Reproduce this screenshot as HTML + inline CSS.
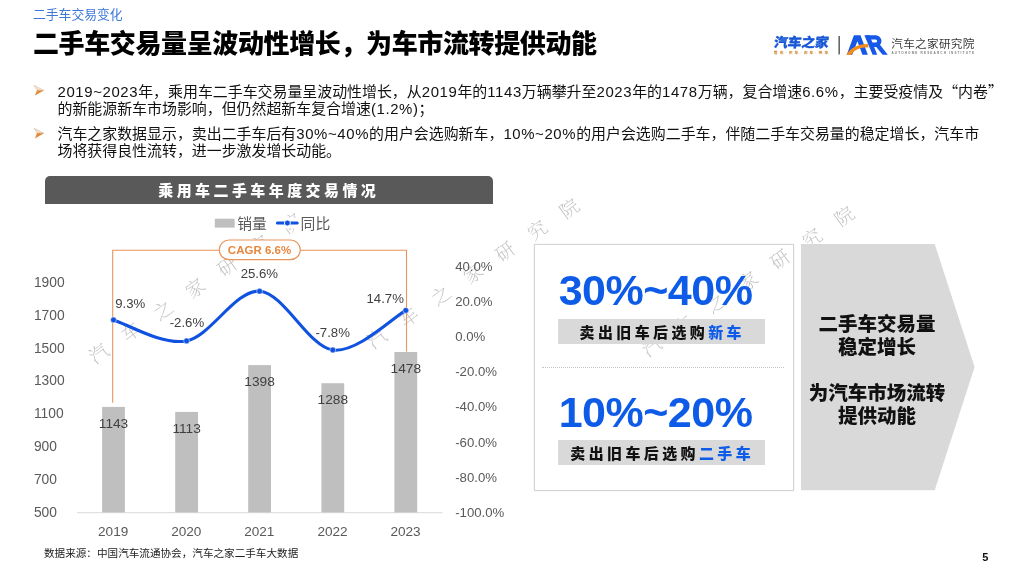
<!DOCTYPE html>
<html lang="zh"><head><meta charset="utf-8"><title>二手车交易变化</title>
<style>
*{margin:0;padding:0;box-sizing:border-box}
html,body{width:1024px;height:576px;overflow:hidden;background:#fff}
body{will-change:transform;font-family:"Liberation Sans","Noto Sans CJK SC",sans-serif;color:#000;position:relative}
.abs{position:absolute;white-space:nowrap}
#crumb{left:33px;top:7px;font-size:12.8px;color:#3b78d8;line-height:16px}
#title{left:33px;top:25.5px;font-size:26px;font-weight:900;line-height:36px;letter-spacing:-0.38px}
.bul{font-size:14.93px;line-height:18px;color:#111;left:57.5px}
.bul i{font-style:normal;letter-spacing:0.62px}
.bul .q{font-family:"Noto Sans CJK SC",sans-serif}
#hdr{left:44.5px;top:175.5px;width:448.5px;height:28.3px;background:#595959;border-radius:5px 5px 0 0;color:#fff;font-weight:900;font-size:14.93px;letter-spacing:3.5px;text-align:center;line-height:30px}
svg text{font-family:"Liberation Sans","Noto Sans CJK SC",sans-serif}
#wm text{font-family:"Noto Serif CJK SC","Liberation Serif",serif;fill:#c2c2c2;font-weight:200}
#box{left:534.2px;top:243.8px;width:260.2px;height:247px;border:1.7px solid #d4d4d4;background:#fff;box-shadow:0 0 2px rgba(0,0,0,.08)}
.big{font-size:43px;font-weight:700;color:#0e5be8;line-height:44px;left:555.5px;width:200px;text-align:center;letter-spacing:-0.5px}
.tag{left:557.5px;width:207px;height:25px;background:#d9d9d9;font-weight:900;font-size:14.93px;letter-spacing:3.45px;text-align:center;line-height:28px;padding-left:2.4px;color:#111}
.tag b{color:#0e5be8}
#dot{left:542px;top:366.8px;width:242px;border-top:1.2px dotted #c4c4c4}
#atxt{left:801px;top:312.8px;width:152px;text-align:center;font-weight:900;font-size:19.5px;line-height:23px;color:#111}
#src{left:44px;top:546px;font-size:10.6px;line-height:14px;color:#222}
#pg{left:982.3px;top:549.5px;font-size:11px;font-weight:700;line-height:14px;color:#111}
</style></head><body>
<div id="crumb" class="abs">二手车交易变化</div>
<div id="title" class="abs">二手车交易量呈波动性增长，为车市流转提供动能</div>

<div class="abs bul" style="top:82px"><i>2019~2023</i>年，乘用车二手车交易量呈波动性增长，从<i>2019</i>年的<i>1143</i>万辆攀升至<i>2023</i>年的<i>1478</i>万辆，复合增速<i>6.6%</i>，主要受疫情及<span class="q">“</span>内卷<span class="q">”</span></div>
<div class="abs bul" style="top:99.5px">的新能源新车市场影响，但仍然超新车复合增速<i>(1.2%)</i>；</div>
<div class="abs bul" style="top:124.5px">汽车之家数据显示，卖出二手车后有<i>30%~40%</i>的用户会选购新车，<i>10%~20%</i>的用户会选购二手车，伴随二手车交易量的稳定增长，汽车市</div>
<div class="abs bul" style="top:142px">场将获得良性流转，进一步激发增长动能。</div>

<div id="hdr" class="abs">乘用车二手车年度交易情况</div>
<div id="box" class="abs"></div>
<div id="dot" class="abs"></div>

<svg id="wm" class="abs" style="left:0;top:0" width="1024" height="576" viewBox="0 0 1024 576"><text x="97.9" y="352.2" font-size="19" text-anchor="middle" dominant-baseline="central" transform="rotate(-36 97.9 352.2)">汽</text><text x="130.0" y="330.5" font-size="19" text-anchor="middle" dominant-baseline="central" transform="rotate(-36 130.0 330.5)">车</text><text x="162.1" y="308.8" font-size="19" text-anchor="middle" dominant-baseline="central" transform="rotate(-36 162.1 308.8)">之</text><text x="194.2" y="287.1" font-size="19" text-anchor="middle" dominant-baseline="central" transform="rotate(-36 194.2 287.1)">家</text><text x="226.3" y="265.4" font-size="19" text-anchor="middle" dominant-baseline="central" transform="rotate(-36 226.3 265.4)">研</text><text x="258.4" y="243.7" font-size="19" text-anchor="middle" dominant-baseline="central" transform="rotate(-36 258.4 243.7)">究</text><text x="290.5" y="222.0" font-size="19" text-anchor="middle" dominant-baseline="central" transform="rotate(-36 290.5 222.0)">院</text><text x="375.9" y="337.4" font-size="19" text-anchor="middle" dominant-baseline="central" transform="rotate(-36 375.9 337.4)">汽</text><text x="408.0" y="315.7" font-size="19" text-anchor="middle" dominant-baseline="central" transform="rotate(-36 408.0 315.7)">车</text><text x="440.1" y="294.0" font-size="19" text-anchor="middle" dominant-baseline="central" transform="rotate(-36 440.1 294.0)">之</text><text x="472.2" y="272.3" font-size="19" text-anchor="middle" dominant-baseline="central" transform="rotate(-36 472.2 272.3)">家</text><text x="504.3" y="250.6" font-size="19" text-anchor="middle" dominant-baseline="central" transform="rotate(-36 504.3 250.6)">研</text><text x="536.4" y="228.9" font-size="19" text-anchor="middle" dominant-baseline="central" transform="rotate(-36 536.4 228.9)">究</text><text x="568.5" y="207.2" font-size="19" text-anchor="middle" dominant-baseline="central" transform="rotate(-36 568.5 207.2)">院</text><text x="650.8" y="345.2" font-size="19" text-anchor="middle" dominant-baseline="central" transform="rotate(-36 650.8 345.2)">汽</text><text x="682.9" y="323.5" font-size="19" text-anchor="middle" dominant-baseline="central" transform="rotate(-36 682.9 323.5)">车</text><text x="715.0" y="301.8" font-size="19" text-anchor="middle" dominant-baseline="central" transform="rotate(-36 715.0 301.8)">之</text><text x="747.1" y="280.1" font-size="19" text-anchor="middle" dominant-baseline="central" transform="rotate(-36 747.1 280.1)">家</text><text x="779.2" y="258.4" font-size="19" text-anchor="middle" dominant-baseline="central" transform="rotate(-36 779.2 258.4)">研</text><text x="811.3" y="236.7" font-size="19" text-anchor="middle" dominant-baseline="central" transform="rotate(-36 811.3 236.7)">究</text><text x="843.4" y="215.0" font-size="19" text-anchor="middle" dominant-baseline="central" transform="rotate(-36 843.4 215.0)">院</text></svg>

<svg class="abs" style="left:0;top:0" width="1024" height="576" viewBox="0 0 1024 576">
<rect x="212" y="217.6" width="120" height="10.8" fill="#fff"/>
<!-- bullets -->
<g id="bl">
<path d="M33.9,85.2 L44,90.4 L37,90.2 Z" fill="#f6dfc8" stroke="#cdbba9" stroke-width="0.5"/>
<path d="M37,90.2 L44,90.4 L34.9,95.6 Z" fill="#e28a3a"/>
<path d="M33.9,128 L44,133.2 L37,133 Z" fill="#f6dfc8" stroke="#cdbba9" stroke-width="0.5"/>
<path d="M37,133 L44,133.2 L34.9,138.4 Z" fill="#e28a3a"/>
</g>
<!-- arrow panel -->
<polygon points="801,244 934.7,244 974.6,367.1 934.7,490.3 801,490.3" fill="#d9d9d9"/>
<!-- axis -->
<line x1="77" y1="512.6999999999999" x2="442.5" y2="512.6999999999999" stroke="#d9d9d9" stroke-width="1"/>
<rect x="102.1" y="406.9" width="22.8" height="105.5" fill="#bfbfbf"/>
<rect x="175.2" y="411.9" width="22.8" height="100.5" fill="#bfbfbf"/>
<rect x="248.2" y="365.1" width="22.8" height="147.3" fill="#bfbfbf"/>
<rect x="321.4" y="383.2" width="22.8" height="129.2" fill="#bfbfbf"/>
<rect x="394.4" y="352.0" width="22.8" height="160.4" fill="#bfbfbf"/>

<!-- CAGR bracket -->
<path d="M112.7,402.8 V250.2 H406.5 V351.6" fill="none" stroke="#e9945a" stroke-width="1.1"/>
<rect x="219.3" y="240" width="81" height="19.6" rx="9.8" fill="#fff" stroke="#e9945a" stroke-width="1.2"/>
<text x="259.5" y="254.1" text-anchor="middle" font-size="11.5" font-weight="700" fill="#e8873f">CAGR 6.6%</text>
<!-- line -->
<path d="M113.5,319.9 C125.7,323.4 162.2,345.7 186.6,340.9 C210.9,336.1 235.2,289.7 259.6,291.2 C284.0,292.8 308.4,346.8 332.8,350.0 C357.2,353.2 393.6,317.0 405.8,310.4" fill="none" stroke="#0f52e0" stroke-width="3.1" stroke-linecap="round"/>
<circle cx="113.5" cy="319.9" r="2.9" fill="#0f52e0" stroke="#fff" stroke-width="0.5"/><circle cx="186.6" cy="340.9" r="2.9" fill="#0f52e0" stroke="#fff" stroke-width="0.5"/><circle cx="259.6" cy="291.2" r="2.9" fill="#0f52e0" stroke="#fff" stroke-width="0.5"/><circle cx="332.8" cy="350.0" r="2.9" fill="#0f52e0" stroke="#fff" stroke-width="0.5"/><circle cx="405.8" cy="310.4" r="2.9" fill="#0f52e0" stroke="#fff" stroke-width="0.5"/>
<!-- legend -->
<rect x="214.8" y="218.7" width="19.8" height="8.9" fill="#bfbfbf"/>
<text x="237.2" y="228.6" font-size="14.8" fill="#595959">销量</text>
<line x1="277.4" y1="223" x2="297.2" y2="223" stroke="#0f52e0" stroke-width="3.1" stroke-linecap="round"/>
<circle cx="287.4" cy="223" r="3" fill="#0f52e0" stroke="#fff" stroke-width="0.9"/>
<text x="300.6" y="228.6" font-size="14.8" fill="#595959">同比</text>
<text x="113.5" y="428.0" text-anchor="middle" font-size="13.7" fill="#404040" >1143</text>
<text x="186.6" y="433.0" text-anchor="middle" font-size="13.7" fill="#404040" >1113</text>
<text x="259.6" y="386.2" text-anchor="middle" font-size="13.7" fill="#404040" >1398</text>
<text x="332.8" y="404.3" text-anchor="middle" font-size="13.7" fill="#404040" >1288</text>
<text x="405.8" y="373.1" text-anchor="middle" font-size="13.7" fill="#404040" >1478</text>
<text x="130.2" y="308.4" text-anchor="middle" font-size="13.2" fill="#404040" >9.3%</text>
<text x="186.9" y="327.1" text-anchor="middle" font-size="13.2" fill="#404040" >-2.6%</text>
<text x="259.4" y="277.9" text-anchor="middle" font-size="13.2" fill="#404040" >25.6%</text>
<text x="332.7" y="336.6" text-anchor="middle" font-size="13.2" fill="#404040" >-7.8%</text>
<text x="385.2" y="303.2" text-anchor="middle" font-size="13.2" fill="#404040" >14.7%</text>
<text x="113.2" y="535.7" text-anchor="middle" font-size="13.6" fill="#595959" >2019</text>
<text x="186.3" y="535.7" text-anchor="middle" font-size="13.6" fill="#595959" >2020</text>
<text x="259.3" y="535.7" text-anchor="middle" font-size="13.6" fill="#595959" >2021</text>
<text x="332.5" y="535.7" text-anchor="middle" font-size="13.6" fill="#595959" >2022</text>
<text x="405.5" y="535.7" text-anchor="middle" font-size="13.6" fill="#595959" >2023</text>
<text x="33.9" y="516.8" text-anchor="start" font-size="13.8" fill="#595959" >500</text>
<text x="33.9" y="483.9" text-anchor="start" font-size="13.8" fill="#595959" >700</text>
<text x="33.9" y="451.0" text-anchor="start" font-size="13.8" fill="#595959" >900</text>
<text x="33.9" y="418.2" text-anchor="start" font-size="13.8" fill="#595959" >1100</text>
<text x="33.9" y="385.3" text-anchor="start" font-size="13.8" fill="#595959" >1300</text>
<text x="33.9" y="352.5" text-anchor="start" font-size="13.8" fill="#595959" >1500</text>
<text x="33.9" y="319.6" text-anchor="start" font-size="13.8" fill="#595959" >1700</text>
<text x="33.9" y="286.8" text-anchor="start" font-size="13.8" fill="#595959" >1900</text>
<text x="455.2" y="516.9" text-anchor="start" font-size="13.2" fill="#595959" >-100.0%</text>
<text x="455.2" y="481.7" text-anchor="start" font-size="13.2" fill="#595959" >-80.0%</text>
<text x="455.2" y="446.5" text-anchor="start" font-size="13.2" fill="#595959" >-60.0%</text>
<text x="455.2" y="411.3" text-anchor="start" font-size="13.2" fill="#595959" >-40.0%</text>
<text x="455.2" y="376.1" text-anchor="start" font-size="13.2" fill="#595959" >-20.0%</text>
<text x="455.2" y="340.9" text-anchor="start" font-size="13.2" fill="#595959" >0.0%</text>
<text x="455.2" y="305.7" text-anchor="start" font-size="13.2" fill="#595959" >20.0%</text>
<text x="455.2" y="270.5" text-anchor="start" font-size="13.2" fill="#595959" >40.0%</text>

</svg>

<div class="abs big" style="top:268.1px">30%~40%</div>
<div class="abs tag" style="top:319px">卖出旧车后选购<b>新车</b></div>
<div class="abs big" style="top:389.8px">10%~20%</div>
<div class="abs tag" style="top:440px">卖出旧车后选购<b>二手车</b></div>

<div id="atxt" class="abs">二手车交易量<br>稳定增长<br><br>为汽车市场流转<br>提供动能</div>

<!-- logo -->
<svg class="abs" style="left:0;top:0" width="1024" height="576" viewBox="0 0 1024 576">
<g transform="translate(773.6,47) skewX(-8)"><text x="0" y="0" font-size="13" font-weight="900" fill="#1757d6" stroke="#1757d6" stroke-width="0.35" textLength="54.6" lengthAdjust="spacingAndGlyphs">汽车之家</text></g>
<text x="773.8" y="54.4" font-size="3.9" font-weight="700" fill="#cf8b3a" textLength="54.5" lengthAdjust="spacing">看车·买车·用车·换车</text>
<rect x="838.5" y="36" width="1.3" height="18.4" fill="#444"/>
<g transform="translate(840,28)">
<polygon points="13.9,7.2 20.5,7.2 27.8,26.7 22.4,26.7 17.4,13.2 12.2,26.7 6.8,26.7" fill="#1659e8"/>
<polygon points="24.4,7.2 29.6,7.2 37.2,26.7 32.6,26.7" fill="#1659e8"/>
<path d="M26,9.4 H35.6 A3.7,3.7 0 0 1 35.6,16.8 H31" fill="none" stroke="#1659e8" stroke-width="4.4"/>
<polygon points="35,17.5 39.8,16.5 47.8,26.7 42.6,26.7" fill="#1659e8"/>
<path d="M6.2,26.9 C10,21 16,16 28,16 L28.5,19.6 C20,19.3 15,21.5 11,26.9 Z" fill="#f28c1e"/>
</g>
<text x="891.3" y="47.6" font-size="11.6" fill="#3a3a3a" textLength="83" lengthAdjust="spacing">汽车之家研究院</text>
<text x="891.5" y="53.8" font-size="3.1" font-weight="700" fill="#808080" textLength="82.6" lengthAdjust="spacing">AUTOHOME  RESEARCH  INSTITUTE</text>
</svg>

<div id="src" class="abs">数据来源：中国汽车流通协会，汽车之家二手车大数据</div>
<div id="pg" class="abs">5</div>
</body></html>
